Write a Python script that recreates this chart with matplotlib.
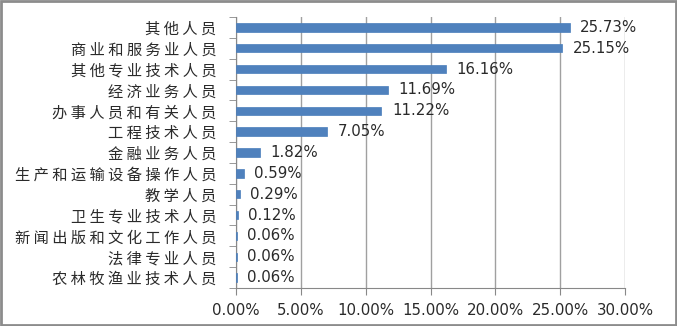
import numpy as np
import matplotlib.pyplot as plt
from matplotlib.patches import Rectangle
from matplotlib.ticker import FixedLocator, PercentFormatter

plt.rcParams['font.family'] = ['Noto Sans CJK SC', 'DejaVu Sans']

# occupation categories and their shares (%), top to bottom
categories = ['其他人员', '商业和服务业人员', '其他专业技术人员', '经济业务人员',
              '办事人员和有关人员', '工程技术人员', '金融业务人员',
              '生产和运输设备操作人员', '教学人员', '卫生专业技术人员',
              '新闻出版和文化工作人员', '法律专业人员', '农林牧渔业技术人员']
shares = [25.73, 25.15, 16.16, 11.69, 11.22, 7.05, 1.82,
          0.59, 0.29, 0.12, 0.06, 0.06, 0.06]
x_ticks = [0, 5, 10, 15, 20, 25, 30]

fig = plt.figure(figsize=(6.77, 3.26), dpi=100)
ax = fig.add_axes([236 / 677, 1 - 288 / 326, 389 / 677, 271 / 326])

y = np.arange(len(categories))[::-1]
ax.barh(y, shares, height=0.4, color='#4F81BD', edgecolor='#4A7EBB',
        linewidth=0.5, zorder=3)

for yi, v in zip(y, shares):
    ax.annotate(f'{v:.2f}%', (v, yi), xytext=(7.5, 0), textcoords='offset points',
                va='center', ha='left', fontsize=10.8, color='#2a2a2a',
                family='DejaVu Sans')

# loosely spaced category labels
spaced = [' '.join(c) for c in categories]

ax.set_xlim(0, 30)
ax.set_ylim(-0.5, len(categories) - 0.5)
ax.set_xticks(x_ticks)
ax.xaxis.set_major_formatter(PercentFormatter(decimals=2))
ax.set_yticks(y)
ax.set_yticklabels(spaced, fontsize=11, color='#2a2a2a')
ax.yaxis.set_minor_locator(FixedLocator(np.arange(-0.5, len(categories), 1)))
ax.tick_params(axis='y', which='major', length=0, pad=14)
ax.tick_params(axis='y', which='minor', length=5, color='#888888', direction='out')
ax.tick_params(axis='x', length=5, color='#888888', pad=6, labelsize=10.8,
               labelcolor='#2a2a2a')
for lbl in ax.get_xticklabels():
    lbl.set_family('DejaVu Sans')

ax.grid(axis='x', color='#A0A0A0', linewidth=1, zorder=0)
for side in ['top', 'right']:
    ax.spines[side].set_visible(False)
for side in ['left', 'bottom']:
    ax.spines[side].set_color('#888888')

# outer chart frame
fig.patches.append(Rectangle((0.002, 0.003), 0.996, 0.994, transform=fig.transFigure,
                             fill=False, edgecolor='#8C8C8C', linewidth=2))

fig.savefig('out.png', dpi=100)
